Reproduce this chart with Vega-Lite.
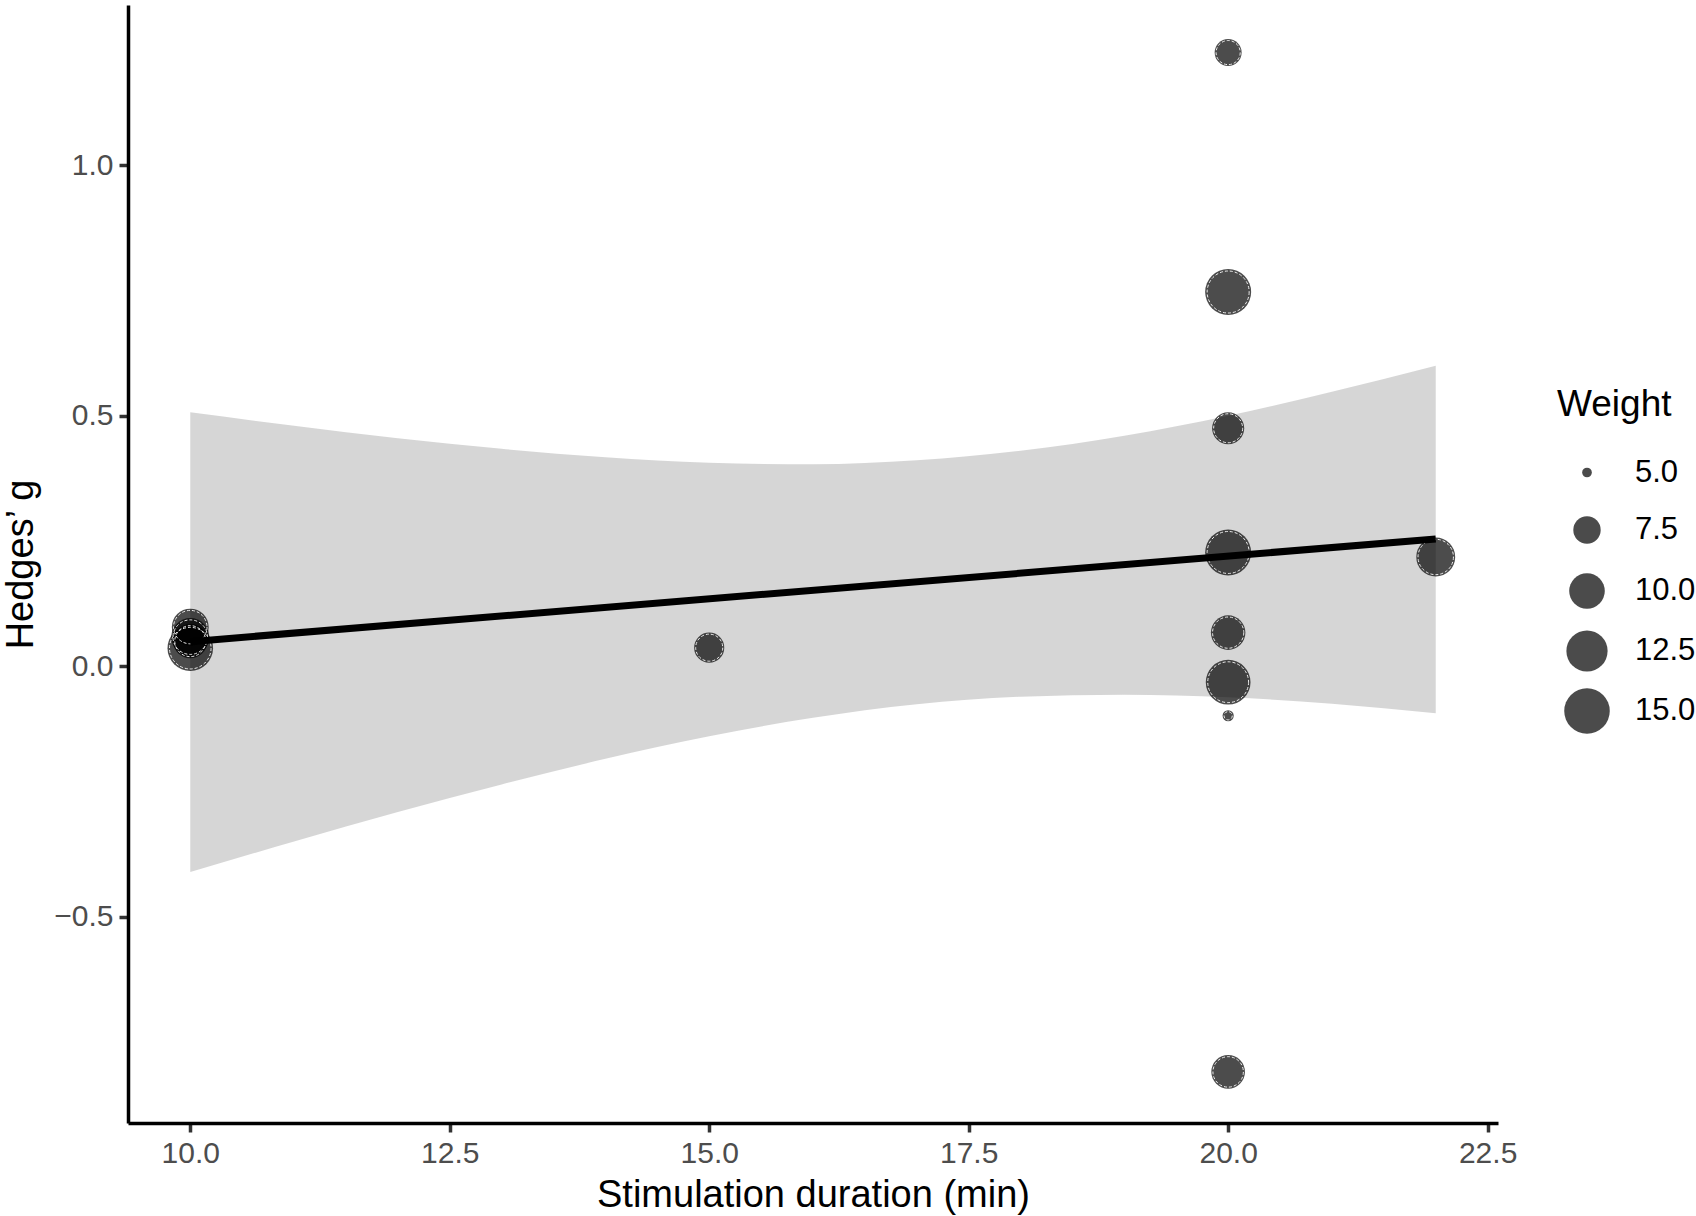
{
  "$schema": "https://vega.github.io/schema/vega-lite/v6.json",
  "description": "Hedges' g against stimulation duration, weighted meta-regression",
  "autosize": {"type": "none"},
  "padding": {"left": 128, "top": 5, "right": 198, "bottom": 93},
  "width": 1370,
  "height": 1118,
  "background": "white",
  "config": {
    "view": {"stroke": null},
    "font": "Liberation Sans",
    "axis": {
      "grid": false,
      "domainColor": "black",
      "domainWidth": 3.5,
      "tickColor": "#333333",
      "tickWidth": 3.5,
      "tickSize": 9,
      "labelFont": "Liberation Sans",
      "labelFontSize": 30,
      "labelColor": "#4d4d4d",
      "labelPadding": 6,
      "titleFont": "Liberation Sans",
      "titleFontSize": 38,
      "titleFontWeight": "normal",
      "titleColor": "black"
    },
    "legend": {
      "titleFont": "Liberation Sans",
      "titleFontSize": 37,
      "titleFontWeight": "normal",
      "titleColor": "black",
      "labelFont": "Liberation Sans",
      "labelFontSize": 31,
      "labelColor": "black"
    }
  },
  "datasets": {
    "pts": [
      {"dur": 10, "g": 0.036, "w": 15.0},
      {"dur": 10, "g": 0.05, "w": 9.5},
      {"dur": 10, "g": 0.058, "w": 11.0},
      {"dur": 10, "g": 0.078, "w": 10.5},
      {"dur": 15, "g": 0.037, "w": 8.2},
      {"dur": 20, "g": 1.225, "w": 7.4},
      {"dur": 20, "g": 0.747, "w": 15.3},
      {"dur": 20, "g": 0.475, "w": 8.8},
      {"dur": 20, "g": 0.227, "w": 15.3},
      {"dur": 20, "g": 0.067, "w": 9.6},
      {"dur": 20, "g": -0.032, "w": 14.5},
      {"dur": 20, "g": -0.099, "w": 5.1},
      {"dur": 20, "g": -0.81, "w": 9.3},
      {"dur": 22, "g": 0.218, "w": 11.4}
    ],
    "band": [
      {"dur": 10, "lo": -0.411, "hi": 0.507},
      {"dur": 11, "lo": -0.35, "hi": 0.48},
      {"dur": 12, "lo": -0.291, "hi": 0.455},
      {"dur": 13, "lo": -0.236, "hi": 0.434},
      {"dur": 14, "lo": -0.185, "hi": 0.417},
      {"dur": 15, "lo": -0.14, "hi": 0.406},
      {"dur": 16, "lo": -0.103, "hi": 0.403},
      {"dur": 17, "lo": -0.076, "hi": 0.411},
      {"dur": 18, "lo": -0.061, "hi": 0.43},
      {"dur": 19, "lo": -0.057, "hi": 0.46},
      {"dur": 20, "lo": -0.062, "hi": 0.5},
      {"dur": 21, "lo": -0.075, "hi": 0.548},
      {"dur": 22, "lo": -0.094, "hi": 0.6}
    ],
    "fit": [
      {"dur": 10, "g": 0.049},
      {"dur": 22, "g": 0.254}
    ]
  },
  "encoding": {
    "x": {
      "field": "dur",
      "type": "quantitative",
      "scale": {"domain": [9.4, 22.6], "nice": false, "zero": false},
      "axis": {
        "title": "Stimulation duration (min)",
        "values": [10, 12.5, 15, 17.5, 20, 22.5],
        "format": ".1f",
        "titlePadding": 8
      }
    }
  },
  "layer": [
    {
      "data": {"name": "band"},
      "mark": {"type": "area", "fill": "#999999", "opacity": 0.4, "interpolate": "monotone"},
      "encoding": {
        "y": {
          "field": "lo",
          "type": "quantitative",
          "scale": {"domain": [-0.912, 1.32], "nice": false, "zero": false},
          "axis": {
            "title": "Hedges’ g",
            "values": [-0.5, 0, 0.5, 1.0],
            "format": ".1f",
            "titleX": -96,
            "titleY": 559,
            "titleBaseline": "alphabetic"
          }
        },
        "y2": {"field": "hi"}
      }
    },
    {
      "data": {"name": "pts"},
      "mark": {"type": "point", "filled": true, "color": "black", "opacity": 0.7, "strokeWidth": 0},
      "encoding": {
        "y": {"field": "g", "type": "quantitative"},
        "size": {
          "field": "w",
          "type": "quantitative",
          "scale": {"type": "pow", "exponent": 0.3, "domain": [4.9, 15.3], "range": [64, 2116], "zero": false},
          "legend": {
            "title": "Weight",
            "values": [5, 7.5, 10, 12.5, 15],
            "format": ".1f",
            "orient": "none",
            "legendX": 1429,
            "legendY": 382,
            "padding": 0,
            "gridAlign": "all",
            "titlePadding": 33,
            "rowPadding": 4.5,
            "symbolOffset": 6,
            "labelOffset": 24
          }
        }
      }
    },
    {
      "data": {"name": "pts"},
      "mark": {"type": "point", "filled": false, "stroke": "white", "strokeWidth": 1, "strokeDash": [3, 2], "opacity": 0.9},
      "encoding": {
        "y": {"field": "g", "type": "quantitative"},
        "size": {
          "field": "w",
          "type": "quantitative",
          "scale": {"type": "pow", "exponent": 0.3, "domain": [4.9, 15.3], "range": [16, 1764], "zero": false},
          "legend": null
        }
      }
    },
    {
      "data": {"name": "fit"},
      "mark": {"type": "line", "color": "black", "strokeWidth": 7},
      "encoding": {
        "y": {"field": "g", "type": "quantitative"}
      }
    }
  ],
  "resolve": {"scale": {"size": "independent"}, "legend": {"size": "independent"}}
}
